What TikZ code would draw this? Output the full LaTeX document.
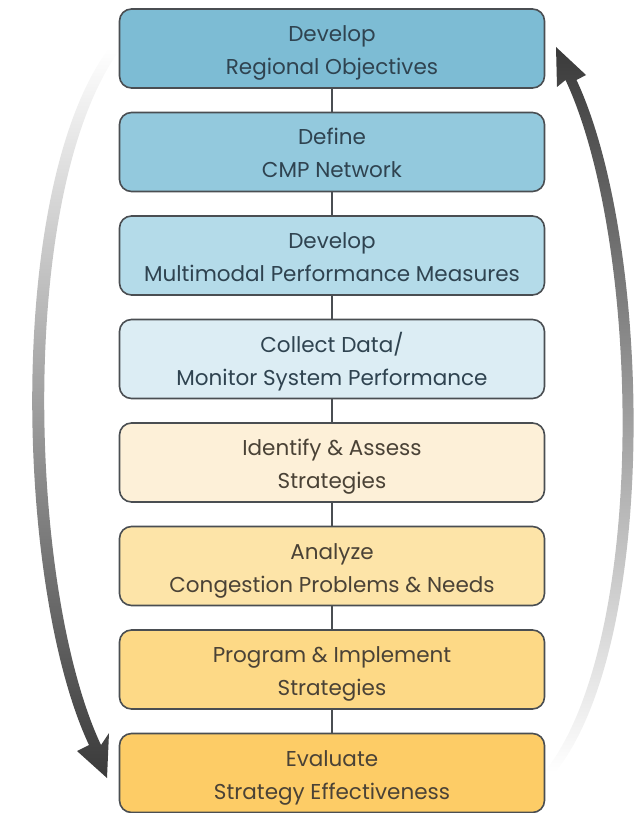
\documentclass[tikz,border=0pt]{standalone}
\usepackage{fontspec}
\setmainfont{Poppins}
\definecolor{boxline}{HTML}{4A4E52}
\definecolor{arrowdark}{HTML}{3A3A3A}
\definecolor{arrowmid}{HTML}{BBBBBB}
\definecolor{txtblue}{HTML}{2F4350}
\definecolor{txtyel}{HTML}{4A4236}
\definecolor{c1}{HTML}{7DBCD4}
\definecolor{c2}{HTML}{93C9DD}
\definecolor{c3}{HTML}{B4DBE9}
\definecolor{c4}{HTML}{DCEDF4}
\definecolor{c5}{HTML}{FDF0D8}
\definecolor{c6}{HTML}{FDE4A8}
\definecolor{c7}{HTML}{FDD986}
\definecolor{c8}{HTML}{FDCC66}
\newcommand{\tstr}{\rule{0pt}{25pt}}
\newcommand{\bstr}{\rule[-6pt]{0pt}{6pt}}
\begin{document}
\begin{tikzpicture}[x=1pt,y=-1pt,
  stepbox/.style={draw=boxline, line width=1.6pt, rounded corners=12pt,
    minimum width=425pt, minimum height=79pt, align=center, inner sep=0pt,
    font=\fontsize{21.5}{33}\selectfont},
  link/.style={draw=boxline, line width=1.8pt}]
\useasboundingbox (0,0) rectangle (634,813);
% left arrow (light at top, dark at the tip)
\shade[top color=white, middle color=arrowmid, bottom color=arrowdark]
  (109,48) .. controls (4,190) and (16,590) .. (89,745)
  -- (77,751) -- (107,778) -- (109,733) -- (101,745)
  .. controls (28,590) and (16,190) .. (121,48) -- cycle;
% right arrow (dark at the tip, light at the bottom)
\shade[top color=arrowdark, middle color=arrowmid, bottom color=white]
  (544.5,772) .. controls (649.5,640) and (640.5,240) .. (565.5,80)
  -- (557,87) -- (556,47) -- (586,75) -- (576.5,80)
  .. controls (651.5,240) and (660.5,640) .. (555.5,772) -- cycle;
% boxes
\node[stepbox, fill=c1, text=txtblue] (b1) at (332,48.5) {\tstr Develop\\Regional Objectives\bstr};
\node[stepbox, fill=c2, text=txtblue] (b2) at (332,152) {\tstr Define\\CMP Network\bstr};
\node[stepbox, fill=c3, text=txtblue] (b3) at (332,255.5) {\tstr Develop\\Multimodal Performance Measures\bstr};
\node[stepbox, fill=c4, text=txtblue] (b4) at (332,359) {\tstr Collect Data/\\Monitor System Performance\bstr};
\node[stepbox, fill=c5, text=txtyel] (b5) at (332,462.5) {\tstr Identify \& Assess\\Strategies\bstr};
\node[stepbox, fill=c6, text=txtyel] (b6) at (332,566) {\tstr Analyze\\Congestion Problems \& Needs\bstr};
\node[stepbox, fill=c7, text=txtyel] (b7) at (332,669.5) {\tstr Program \& Implement\\Strategies\bstr};
\node[stepbox, fill=c8, text=txtyel] (b8) at (332,773) {\tstr Evaluate\\Strategy Effectiveness\bstr};
\foreach \a/\b in {b1/b2,b2/b3,b3/b4,b4/b5,b5/b6,b6/b7,b7/b8}
  \draw[link] (\a.south) -- (\b.north);
\end{tikzpicture}
\end{document}
